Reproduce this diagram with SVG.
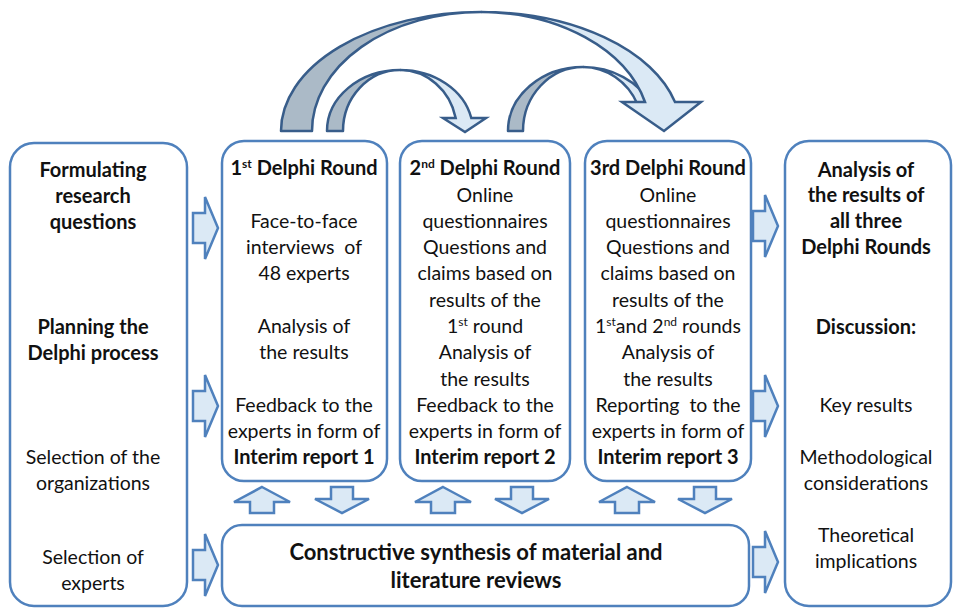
<svg xmlns="http://www.w3.org/2000/svg" width="960" height="608" viewBox="0 0 960 608">
  <defs>
    <style>
      .box { fill: #ffffff; stroke: #4f81bd; stroke-width: 2.5; }
      .blk { fill: #dbe9f5; stroke: #4f81bd; stroke-width: 2.5; stroke-linejoin: miter; }
      .back { fill: #abbac7; stroke: #385d8a; stroke-width: 2.5; stroke-linejoin: round; }
      .front { fill: #dbe9f5; stroke: #385d8a; stroke-width: 2.5; stroke-linejoin: miter; }
      text { font-family: Lato, "Open Sans", "Liberation Sans", sans-serif; font-size: 19.5px; fill: #111111; text-anchor: middle; }
      .b { font-weight: bold; font-size: 20px; }
      .big { font-size: 22px; font-weight: bold; }
    </style>
    <!-- block arrows used between boxes -->
    <path id="rarrow" d="M0,-15 H12 V-31 L25,0 L12,31 V15 H0 Z"/>
    <path id="uarrow" d="M0,0 L28,15 H12 V26 H-12 V15 H-28 Z"/>
    <path id="darrow" d="M-11,0 H11 V12 H27 L0,26 L-27,12 H-11 Z"/>
  </defs>

  <rect width="960" height="608" fill="#ffffff"/>

  <!-- curved arrows over the round boxes -->
  <g id="connectors">
    <g id="curve-1-2">
      <path class="back" d="M327,131 A73,61 0 0 1 400,70 A57,61 0 0 0 343,131 Z"/>
      <path class="front" d="M400,70 A73,61 0 0 1 471.3,118 L486,118 L465,132 L443,118 L455.7,118 A57,61 0 0 0 400,70 Z"/>
    </g>
    <g id="curve-2-3">
      <path class="back" d="M508,131 A75,64 0 0 1 583,67 A60,64 0 0 0 523,131 Z"/>
      <path class="front" d="M583,67 A75,64 0 0 1 651,104 L637.4,104 A60,64 0 0 0 583,67 Z"/>
    </g>
    <g id="curve-1-3">
      <path class="back" d="M281,131 A200,119 0 0 1 481,12 A169,119 0 0 0 312,131 Z"/>
      <path class="front" d="M481,12 A200,119 0 0 1 675,102 L701,102 L664,131 L622,102 L645,102 A169,119 0 0 0 481,12 Z"/>
    </g>

    <!-- right-pointing block arrows -->
    <use href="#rarrow" class="blk" x="193" y="228"/>
    <use href="#rarrow" class="blk" x="193" y="406"/>
    <use href="#rarrow" class="blk" x="193" y="565"/>
    <use href="#rarrow" class="blk" x="753" y="226"/>
    <use href="#rarrow" class="blk" x="753" y="406"/>
    <use href="#rarrow" class="blk" x="753" y="562"/>

    <!-- exchange with the synthesis box -->
    <use href="#uarrow" class="blk" x="262" y="487"/>
    <use href="#darrow" class="blk" x="342" y="487"/>
    <use href="#uarrow" class="blk" x="443" y="487"/>
    <use href="#darrow" class="blk" x="522" y="487"/>
    <use href="#uarrow" class="blk" x="627" y="487"/>
    <use href="#darrow" class="blk" x="705" y="487"/>
  </g>

  <g id="planning">
    <rect class="box" x="10" y="143" width="177" height="463" rx="24"/>
    <text class="b" x="93" y="177">Formulating</text>
    <text class="b" x="93" y="203">research</text>
    <text class="b" x="93" y="229">questions</text>
    <text class="b" x="93" y="334">Planning the</text>
    <text class="b" x="93" y="360">Delphi process</text>
    <text x="93" y="464">Selection of the</text>
    <text x="93" y="490">organizations</text>
    <text x="93" y="564">Selection of</text>
    <text x="93" y="590">experts</text>
  </g>

  <g id="round1">
    <rect class="box" x="222" y="141" width="165" height="340" rx="22"/>
    <text class="b" x="304" y="175">1<tspan font-size="12" dy="-7">st</tspan><tspan dy="7"> Delphi Round</tspan></text>
    <text x="304" y="228">Face-to-face</text>
    <text x="304" y="254" xml:space="preserve">interviews  of</text>
    <text x="304" y="280">48 experts</text>
    <text x="304" y="333">Analysis of</text>
    <text x="304" y="359">the results</text>
    <text x="304" y="412">Feedback to the</text>
    <text x="304" y="438">experts in form of</text>
    <text class="b" x="304" y="464">Interim report 1</text>
  </g>

  <g id="round2">
    <rect class="box" x="400" y="141" width="170" height="340" rx="22"/>
    <text class="b" x="485" y="175">2<tspan font-size="12" dy="-7">nd</tspan><tspan dy="7"> Delphi Round</tspan></text>
    <text x="485" y="202">Online</text>
    <text x="485" y="228">questionnaires</text>
    <text x="485" y="254">Questions and</text>
    <text x="485" y="280">claims based on</text>
    <text x="485" y="307">results of the</text>
    <text x="485" y="333">1<tspan font-size="12" dy="-7">st</tspan><tspan dy="7"> round</tspan></text>
    <text x="485" y="359">Analysis of</text>
    <text x="485" y="386">the results</text>
    <text x="485" y="412">Feedback to the</text>
    <text x="485" y="438">experts in form of</text>
    <text class="b" x="485" y="464">Interim report 2</text>
  </g>

  <g id="round3">
    <rect class="box" x="585" y="141" width="166" height="340" rx="22"/>
    <text class="b" x="668" y="175">3rd Delphi Round</text>
    <text x="668" y="202">Online</text>
    <text x="668" y="228">questionnaires</text>
    <text x="668" y="254">Questions and</text>
    <text x="668" y="280">claims based on</text>
    <text x="668" y="307">results of the</text>
    <text x="668" y="333">1<tspan font-size="12" dy="-7">st</tspan><tspan dy="7">and 2</tspan><tspan font-size="12" dy="-7">nd</tspan><tspan dy="7"> rounds</tspan></text>
    <text x="668" y="359">Analysis of</text>
    <text x="668" y="386">the results</text>
    <text x="668" y="412" xml:space="preserve">Reporting  to the</text>
    <text x="668" y="438">experts in form of</text>
    <text class="b" x="668" y="464">Interim report 3</text>
  </g>

  <g id="analysis">
    <rect class="box" x="785" y="141" width="166" height="465" rx="24"/>
    <text class="b" x="866" y="177">Analysis of</text>
    <text class="b" x="866" y="202">the results of</text>
    <text class="b" x="866" y="228">all three</text>
    <text class="b" x="866" y="254">Delphi Rounds</text>
    <text class="b" x="866" y="334">Discussion:</text>
    <text x="866" y="412">Key results</text>
    <text x="866" y="464">Methodological</text>
    <text x="866" y="490">considerations</text>
    <text x="866" y="542">Theoretical</text>
    <text x="866" y="568">implications</text>
  </g>

  <g id="synthesis">
    <rect class="box" x="222" y="525" width="527" height="81" rx="20"/>
    <text class="big" x="476" y="560">Constructive synthesis of material and</text>
    <text class="big" x="476" y="588">literature reviews</text>
  </g>
</svg>
